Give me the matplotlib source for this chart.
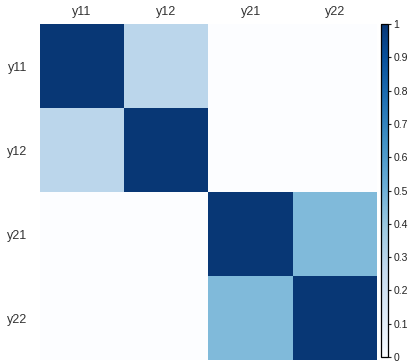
import numpy as np
import matplotlib
matplotlib.use("Agg")
import matplotlib.pyplot as plt
from matplotlib.colors import LinearSegmentedColormap

labels = ["y11", "y12", "y21", "y22"]
corr = np.array([
    [1.0, 0.29, 0.0, 0.0],
    [0.29, 1.0, 0.0, 0.0],
    [0.0, 0.0, 1.0, 0.46],
    [0.0, 0.0, 0.46, 1.0],
])
cbar_ticks = [0, 0.1, 0.2, 0.3, 0.4, 0.5, 0.6, 0.7, 0.8, 0.9, 1]
cbar_labels = ["0", "0.1", "0.2", "0.3", "0.4", "0.5", "0.6", "0.7", "0.8", "0.9", "1"]

plt.rcParams['font.family'] = ['Liberation Sans', 'DejaVu Sans']

# Blues, but starting from a near-white end
base = plt.get_cmap("Blues")(np.linspace(0, 1, 256))
base[0] = [0.99, 0.995, 1.0, 1.0]
cmap = LinearSegmentedColormap.from_list("blues_w", [base[0], *base[8::8]])

fig = plt.figure(figsize=(4.12, 3.63), dpi=100)
W, H = 412, 363
ax = fig.add_axes([40 / W, 1 - 360 / H, 337 / W, 336 / H])
cax = fig.add_axes([381 / W, 1 - 357 / H, 7 / W, 333 / H])

im = ax.imshow(corr, cmap=cmap, vmin=0, vmax=1, aspect="auto",
               interpolation="nearest")
ax.set_xticks(range(len(labels)))
ax.set_xticklabels(labels)
ax.set_yticks(range(len(labels)))
ax.set_yticklabels(labels)
ax.xaxis.tick_top()
ax.tick_params(axis="x", length=0, labelsize=9, colors="#333333", pad=4)
ax.tick_params(axis="y", length=0, labelsize=9, colors="#333333", pad=9)
for s in ax.spines.values():
    s.set_visible(False)

cb = fig.colorbar(im, cax=cax)
cb.set_ticks(cbar_ticks)
cb.set_ticklabels(cbar_labels)
cb.ax.tick_params(labelsize=7.5, length=2, width=0.8, colors="#222222", pad=2)
cb.outline.set_linewidth(0.9)

fig.savefig("out.png", dpi=100)
